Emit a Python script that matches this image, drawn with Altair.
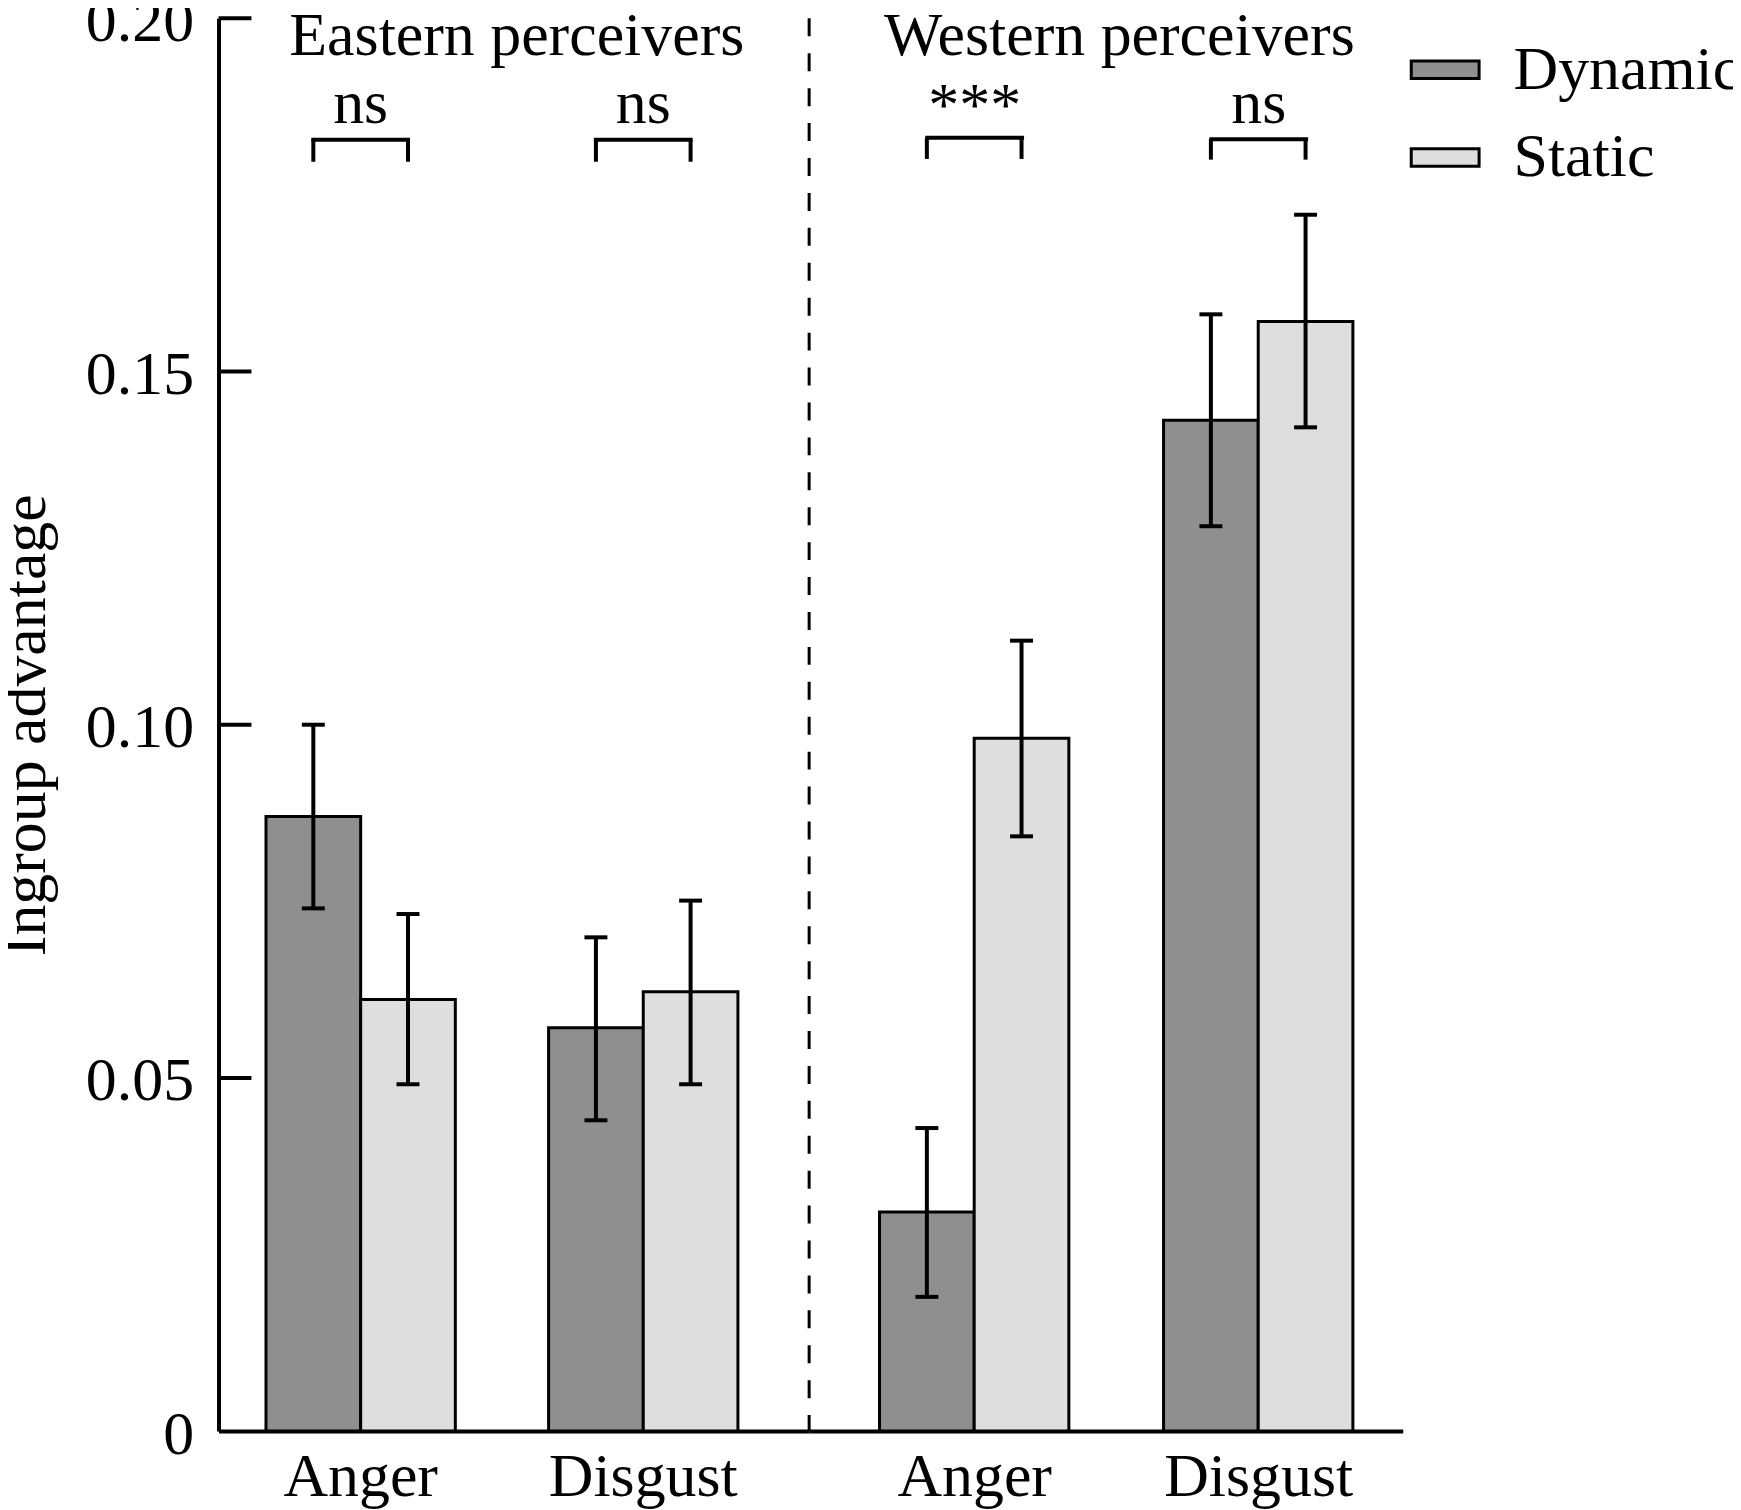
import altair as alt
import pandas as pd

FONT = "Liberation Serif"

PERCEIVERS = ["Eastern perceivers", "Western perceivers"]
EMOTIONS = ["Anger", "Disgust"]
CONDITIONS = ["Dynamic", "Static"]

# order inside each group: Anger-Dynamic, Anger-Static, Disgust-Dynamic, Disgust-Static
EAST_MEAN = [0.0870, 0.0611, 0.0571, 0.0622]
EAST_LO = [0.0740, 0.0491, 0.0440, 0.0491]
EAST_HI = [0.1000, 0.0732, 0.0699, 0.0751]
WEST_MEAN = [0.0310, 0.0981, 0.1431, 0.1571]
WEST_LO = [0.0190, 0.0842, 0.1281, 0.1421]
WEST_HI = [0.0429, 0.1119, 0.1581, 0.1722]

# significance brackets per (perceiver, emotion): E-Anger, E-Disgust, W-Anger, W-Disgust
SIG_LABELS = ["ns", "ns", "***", "ns"]
SIG_Y = [0.1852, 0.1852, 0.1849, 0.1852]
BRACKET_TOP = [0.1828, 0.1828, 0.1831, 0.1829]
BRACKET_BOTTOM = [0.1797, 0.1797, 0.1801, 0.1800]

GROUP_TITLE_Y = 0.1948
Y_TICKS = [0.05, 0.10, 0.15, 0.20]

DARK = "#8f8f8f"
LIGHT = "#dedede"

PANEL_H = 1416

rows = []
for p, means, los, his in [(PERCEIVERS[0], EAST_MEAN, EAST_LO, EAST_HI),
                           (PERCEIVERS[1], WEST_MEAN, WEST_LO, WEST_HI)]:
    i = 0
    for e in EMOTIONS:
        for c in CONDITIONS:
            rows.append({"perceiver": p, "emotion": e, "condition": c,
                         "mean": means[i], "lo": los[i], "hi": his[i]})
            i += 1
df = pd.DataFrame(rows)

sig_rows = []
leg_rows = []
k = 0
for p in PERCEIVERS:
    for e in EMOTIONS:
        sig_rows.append({"perceiver": p, "emotion": e, "label": SIG_LABELS[k],
                         "sy": SIG_Y[k], "top": BRACKET_TOP[k]})
        for c in CONDITIONS:
            leg_rows.append({"perceiver": p, "emotion": e, "condition": c,
                             "top": BRACKET_TOP[k], "bottom": BRACKET_BOTTOM[k]})
        k += 1
sig_df = pd.DataFrame(sig_rows)
leg_df = pd.DataFrame(leg_rows)
tick_df = pd.DataFrame({"tick": Y_TICKS})


def panel(perceiver, align, first, title_x, width):
    xscale = alt.Scale(paddingInner=0.33, paddingOuter=0.21, align=align)
    xaxis = alt.Axis(title=None, labelAngle=0, labelFont=FONT, labelFontSize=62,
                     labelColor="black", labelLimit=0, domainColor="black", domainWidth=4,
                     ticks=False, tickSize=0, labelPadding=16, grid=False)
    if first:
        yaxis = alt.Axis(title="Ingroup advantage", titleFont=FONT, titleFontSize=62,
                         titleFontWeight="normal", titleColor="black", titlePadding=28,
                         values=[0, 0.05, 0.10, 0.15, 0.20],
                         labelExpr="datum.value == 0 ? '0' : format(datum.value, '.2f')",
                         labelFont=FONT, labelFontSize=62, labelColor="black",
                         labelPadding=25, labelOffset=3, ticks=False, tickSize=0,
                         domainColor="black", domainWidth=4, grid=False)
    else:
        yaxis = None
    yscale = alt.Scale(domain=[0, 0.2], nice=False, zero=True)

    def X():
        return alt.X("emotion:N", sort=EMOTIONS, scale=xscale, axis=xaxis)

    def XO():
        return alt.XOffset("condition:N", sort=CONDITIONS,
                           scale=alt.Scale(paddingInner=0, paddingOuter=0))

    def Y(field):
        return alt.Y(f"{field}:Q", scale=yscale, axis=yaxis)

    d = df[df.perceiver == perceiver]
    s = sig_df[sig_df.perceiver == perceiver]
    lg = leg_df[leg_df.perceiver == perceiver]

    bars = alt.Chart(d).mark_bar(stroke="black", strokeWidth=3, opacity=1).encode(
        x=X(), xOffset=XO(), y=Y("mean"),
        fill=alt.Fill("condition:N", sort=CONDITIONS,
                      scale=alt.Scale(domain=CONDITIONS, range=[DARK, LIGHT]),
                      legend=alt.Legend(title=None, orient="none", legendX=1194, legendY=16,
                                        padding=0,
                                        symbolType="M-1,-0.26H1V0.26H-1Z",
                                        symbolSize=4624, symbolStrokeColor="black",
                                        symbolStrokeWidth=3, symbolOpacity=1,
                                        labelFont=FONT, labelFontSize=62,
                                        labelColor="black", labelOffset=33,
                                        labelLimit=0, rowPadding=21))
    )
    err = alt.Chart(d).mark_rule(color="black", strokeWidth=4).encode(
        x=X(), xOffset=XO(), y=Y("lo"), y2="hi:Q")
    cap_lo = alt.Chart(d).mark_tick(color="black", size=23, thickness=4, opacity=1).encode(
        x=X(), xOffset=XO(), y=Y("lo"))
    cap_hi = alt.Chart(d).mark_tick(color="black", size=23, thickness=4, opacity=1).encode(
        x=X(), xOffset=XO(), y=Y("hi"))
    legs = alt.Chart(lg).mark_rule(color="black", strokeWidth=4).encode(
        x=X(), xOffset=XO(), y=Y("bottom"), y2="top:Q")
    bracket = alt.Chart(s).mark_tick(color="black", size=99, thickness=4, opacity=1).encode(
        x=X(), y=Y("top"))
    sig = alt.Chart(s).mark_text(font=FONT, fontSize=62, color="black",
                                 baseline="alphabetic", align="center").encode(
        x=X(), y=Y("sy"), text="label:N")
    gt = alt.Chart(pd.DataFrame({"t": [perceiver], "gy": [GROUP_TITLE_Y]})).mark_text(
        font=FONT, fontSize=62, color="black", baseline="alphabetic", align="center").encode(
        x=alt.value(title_x), y=Y("gy"), text="t:N")

    layers = [bars, err, cap_lo, cap_hi, legs, bracket, sig, gt]
    if first:
        ticks = alt.Chart(tick_df).mark_rule(color="black", strokeWidth=4).encode(
            y=Y("tick"), x=alt.value(0), x2=alt.value(33))
        layers.append(ticks)
    else:
        dash = alt.Chart(pd.DataFrame({"a": [0.2], "b": [0.0]})).mark_rule(
            color="black", strokeWidth=3, strokeDash=[18, 17]).encode(
            x=alt.value(0), y=Y("a"), y2="b:Q")
        layers.append(dash)
    return alt.layer(*layers).properties(width=width, height=PANEL_H)


left = panel(PERCEIVERS[0], 0.40, True, 299, 592)
right = panel(PERCEIVERS[1], 0.59, False, 311, 595)

chart = alt.hconcat(left, right, spacing=0, bounds="flush").configure(
    font=FONT).configure_view(stroke="transparent", strokeWidth=0).properties(
    autosize=alt.AutoSizeParams(type="none"),
    padding={"left": 211, "top": 7, "right": 1518, "bottom": 1495},
)

chart.save("out.html", embed_options={"renderer": "svg", "actions": False})
